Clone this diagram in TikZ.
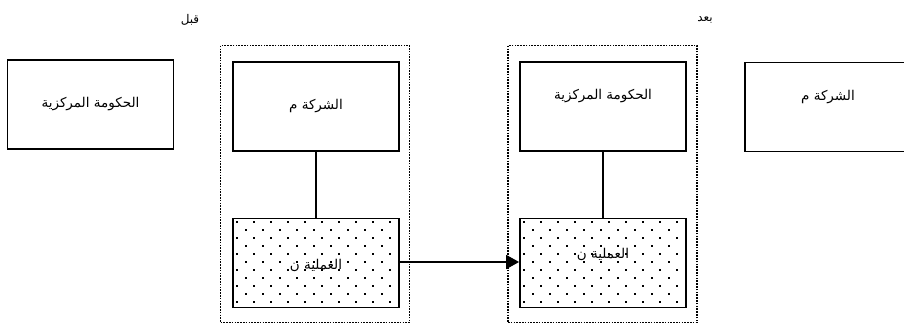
\documentclass[tikz,border=0pt]{standalone}
\usepackage{fontspec}
\newfontfamily\arabicfont[Script=Arabic]{DejaVu Sans}
\TeXXeTstate=1
\usetikzlibrary{arrows.meta}
\newcommand{\ar}[1]{{\arabicfont\beginR #1\endR}}
\begin{document}
\begin{tikzpicture}[x=1pt,y=-1pt,
  solidbox/.style={draw,line width=1.8pt,rectangle,minimum width=166pt,minimum height=89pt,inner sep=0pt,font=\fontsize{13.5}{15}\selectfont},
  group/.style={draw,line width=1.6pt,dash pattern=on 1.6pt off 1.2pt,rectangle,inner sep=0pt},
  lbl/.style={font=\fontsize{13.5}{15}\selectfont,inner sep=0pt},
  small/.style={font=\fontsize{12}{14}\selectfont,inner sep=0pt}]
\clip (0,0) rectangle (904,325);
\fill[white] (0,0) rectangle (904,325);
% containers
\node[group,minimum width=189pt,minimum height=277pt] (g1) at (315,184) {};
\node[group,minimum width=189pt,minimum height=277pt] (g2) at (602.5,184) {};
% dotted fills
\foreach \cx in {316,603}{
  \begin{scope}
  \clip (\cx-83,218) rectangle (\cx+83,308);
  \foreach \r in {0,...,11}{
    \pgfmathsetmacro{\yy}{222+\r*8}
    \pgfmathsetmacro{\off}{mod(\r,2)*8.5}
    \foreach \k in {0,...,10}{
      \fill (\cx-83+4+\off+\k*17-1,\yy-1) rectangle ++(2,2);
    }
  }
  \end{scope}
}
\node[solidbox] (gov1) at (90.5,104.5) {\ar{الحكومة المركزية}};
\node[solidbox] (co1) at (316,106.5) {\ar{الشركة م}};
\node[solidbox] (op1) at (316,263) {};
\node[lbl] (op1t) at (316,265) {\ar{العملية ن}};
\node[solidbox] (gov2) at (603,106.5) {};
\node[lbl] (gov2t) at (603,96) {\ar{الحكومة المركزية}};
\node[solidbox] (op2) at (603,263) {};
\node[lbl] (op2t) at (603,254) {\ar{العملية ن}};
\node[solidbox] (co2) at (828,107) {};
\node[lbl] (co2t) at (828,97) {\ar{الشركة م}};
\node[small] (before) at (190,20) {\ar{قبل}};
\node[small] (after) at (705,20) {\ar{بعد}};
\draw[line width=1.8pt] (co1) -- (op1);
\draw[line width=1.8pt] (gov2) -- (op2);
\draw[line width=1.5pt,-{Triangle[length=13pt,width=14pt]}] (op1.east |- 0,262) -- (op2.west |- 0,262);
\end{tikzpicture}
\end{document}
